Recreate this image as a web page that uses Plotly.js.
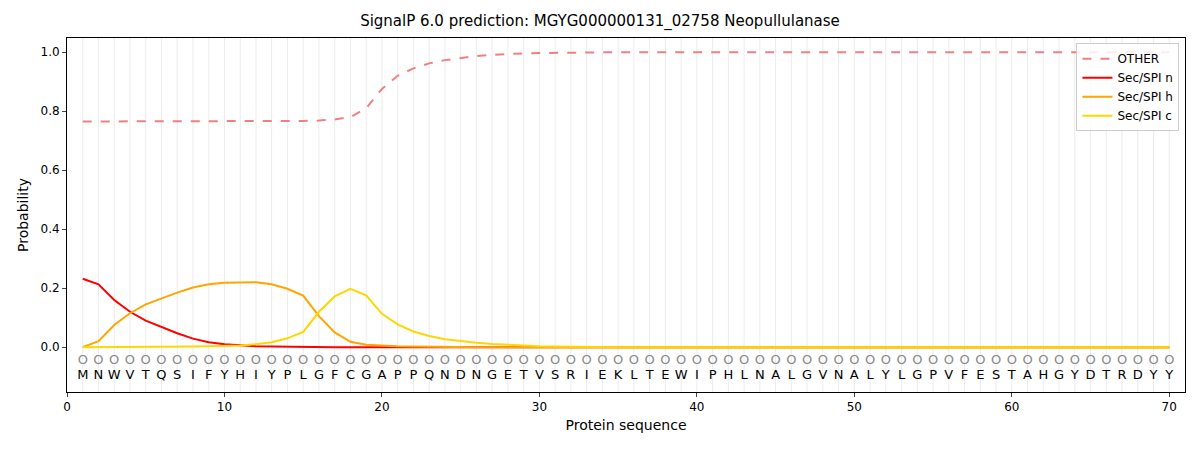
<html><head><script src="https://cdn.plot.ly/plotly-3.0.1.min.js"></script></head><body style="margin:0">
<div id="g" style="width:1200px;height:450px"></div>
<script>
const residues = "M N W V T Q S I F Y H I Y P L G F C G A P P Q N D N G E T V S R I E K L T E W I P H L N A L G V N A L Y L G P V F E S T A H G Y D T R D Y Y".split(" ");
const positions = residues.map((_, i) => i + 1);
const other = [0.765,0.765,0.765,0.765,0.765,0.765,0.765,0.765,0.765,0.765,0.765,0.766,0.766,0.767,0.767,0.768,0.772,0.78,0.81,0.875,0.92,0.945,0.962,0.973,0.981,0.987,0.991,0.994,0.996,0.997,0.998,0.999,0.999,0.999,1,1,1,1,1,1,1,1,1,1,1,1,1,1,1,1,1,1,1,1,1,1,1,1,1,1,1,1,1,1,1,1,1,1,1,1];
const secN = [0.232,0.213,0.16,0.12,0.09,0.068,0.047,0.029,0.017,0.01,0.006,0.003,0.002,0.001,0.001,0,0,0,0,0,0,0,0,0,0,0,0,0,0,0,0,0,0,0,0,0,0,0,0,0,0,0,0,0,0,0,0,0,0,0,0,0,0,0,0,0,0,0,0,0,0,0,0,0,0,0,0,0,0,0];
const secH = [0,0.02,0.075,0.115,0.145,0.165,0.185,0.202,0.213,0.218,0.22,0.22,0.213,0.198,0.175,0.105,0.05,0.018,0.008,0.005,0.003,0.002,0.001,0.001,0,0,0,0,0,0,0,0,0,0,0,0,0,0,0,0,0,0,0,0,0,0,0,0,0,0,0,0,0,0,0,0,0,0,0,0,0,0,0,0,0,0,0,0,0,0];
const secC = [0,0,0,0,0.001,0.001,0.002,0.002,0.003,0.004,0.006,0.01,0.017,0.03,0.052,0.12,0.172,0.198,0.176,0.113,0.077,0.053,0.038,0.027,0.02,0.015,0.011,0.008,0.005,0.003,0.002,0.001,0.001,0,0,0,0,0,0,0,0,0,0,0,0,0,0,0,0,0,0,0,0,0,0,0,0,0,0,0,0,0,0,0,0,0,0,0,0,0];
const traces = [
 {x:positions,y:other,name:"OTHER",mode:"lines",line:{color:"#f08080",dash:"dash",width:2}},
 {x:positions,y:secN,name:"Sec/SPI n",mode:"lines",line:{color:"#ff0000",width:2}},
 {x:positions,y:secH,name:"Sec/SPI h",mode:"lines",line:{color:"#ffa500",width:2}},
 {x:positions,y:secC,name:"Sec/SPI c",mode:"lines",line:{color:"#ffd700",width:2}},
 {x:positions,y:positions.map(()=>-0.047),mode:"text",text:positions.map(()=>"O"),textfont:{color:"#888",size:13,family:"DejaVu Sans"},showlegend:false,hoverinfo:"skip"},
 {x:positions,y:positions.map(()=>-0.098),mode:"text",text:residues,textfont:{color:"#000",size:13,family:"DejaVu Sans"},showlegend:false,hoverinfo:"skip"}
];
const shapes = positions.map(p=>({type:"line",x0:p,x1:p,y0:0,y1:1,yref:"paper",line:{color:"rgba(0,0,0,0.08)",width:1},layer:"below"}));
Plotly.newPlot("g",traces,{
 width:1200,height:450,margin:{l:67,r:15,t:38,b:58},
 font:{family:"DejaVu Sans",size:12,color:"#000"},
 paper_bgcolor:"#fff",plot_bgcolor:"#fff",shapes:shapes,
 title:{text:"SignalP 6.0 prediction: MGYG000000131_02758 Neopullulanase",x:0.5,xanchor:"center",y:0.965,font:{size:15}},
 xaxis:{range:[0,71],tickvals:[0,10,20,30,40,50,60,70],showgrid:false,zeroline:false,showline:true,mirror:true,linecolor:"#000",ticks:"outside",ticklen:4,title:{text:"Protein sequence",standoff:6}},
 yaxis:{range:[-0.152,1.048],tickvals:[0,0.2,0.4,0.6,0.8,1.0],tickformat:".1f",showgrid:false,zeroline:false,showline:true,mirror:true,linecolor:"#000",ticks:"outside",ticklen:4,title:{text:"Probability",standoff:8}},
 legend:{x:0.995,y:0.985,xanchor:"right",yanchor:"top",bgcolor:"rgba(255,255,255,0.85)",bordercolor:"#ccc",borderwidth:1,font:{size:12}}
},{displayModeBar:false});
</script></body></html>
